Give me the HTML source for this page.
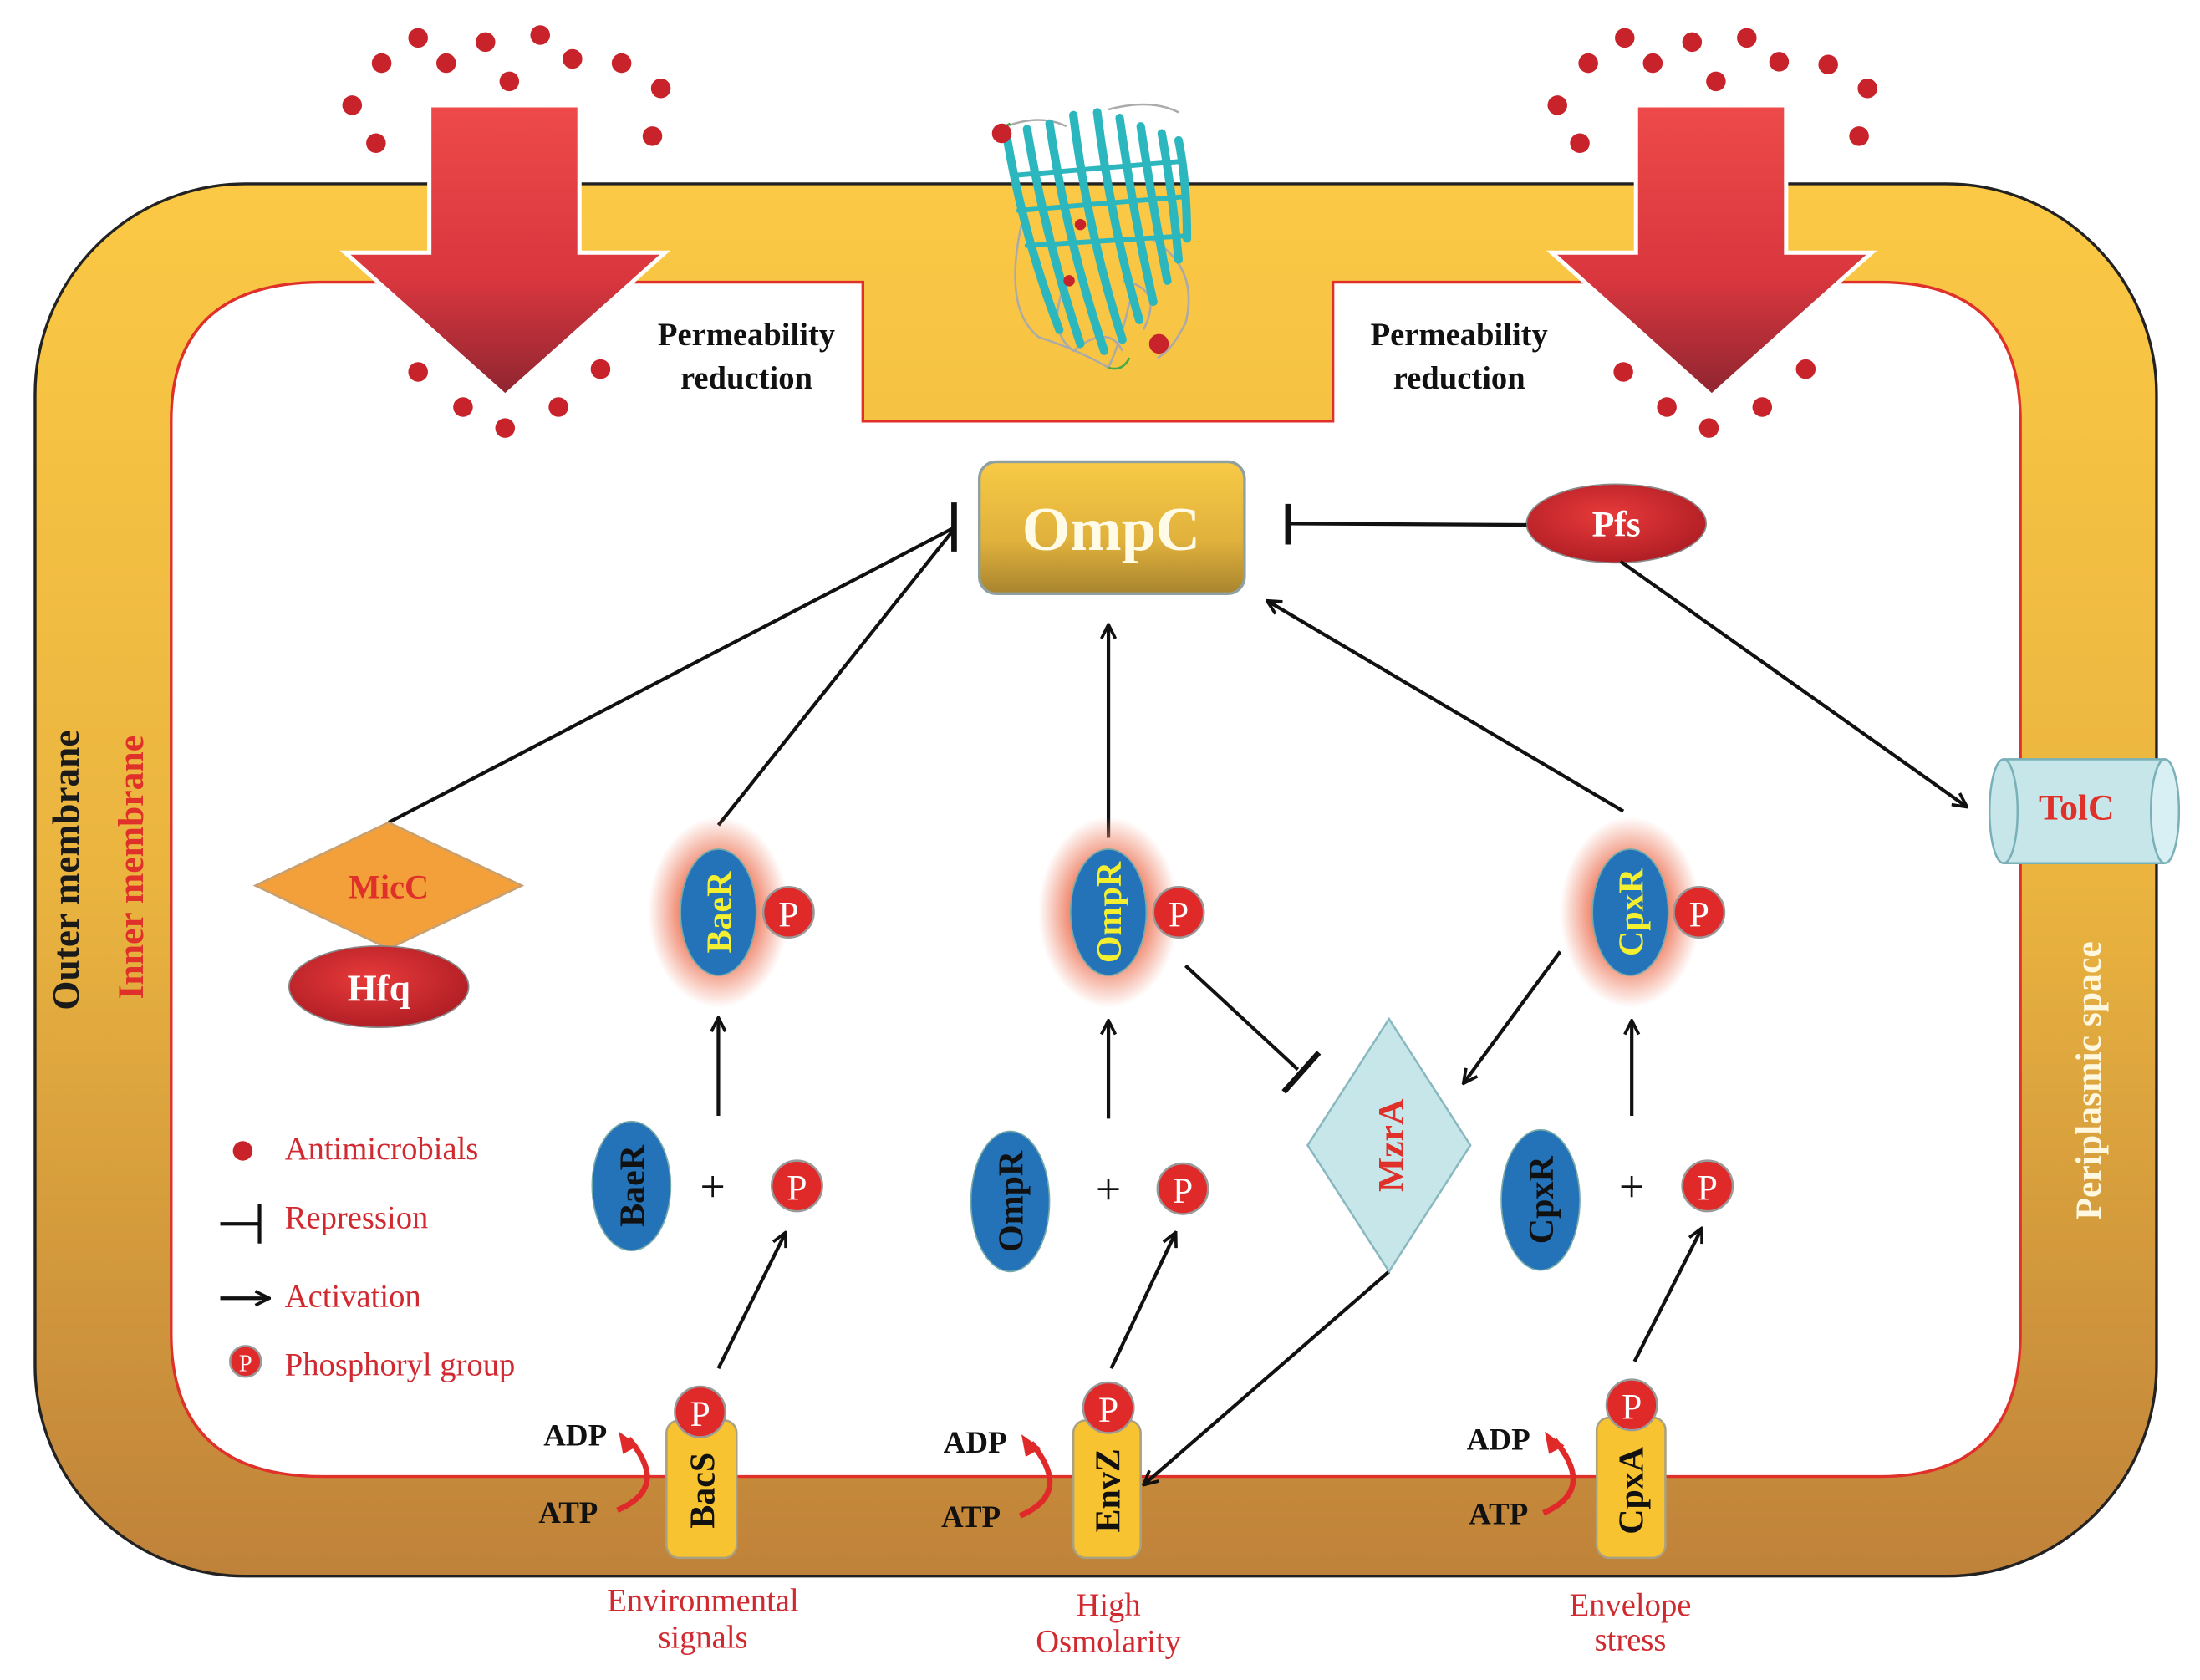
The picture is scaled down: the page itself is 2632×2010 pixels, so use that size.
<!DOCTYPE html>
<html><head><meta charset="utf-8"><style>html,body{margin:0;padding:0;background:#fff}svg{display:block}</style></head>
<body>
<svg width="2632" height="2010" viewBox="0 0 1568 1197" preserveAspectRatio="none" xmlns="http://www.w3.org/2000/svg" font-family="'Liberation Serif', serif">
<defs>
<linearGradient id="mem" x1="0" y1="0" x2="0" y2="1">
<stop offset="0" stop-color="#fbc945"/><stop offset="0.5" stop-color="#eab43f"/><stop offset="1" stop-color="#bf823a"/></linearGradient>
<linearGradient id="arr" x1="0" y1="0" x2="0" y2="1">
<stop offset="0" stop-color="#ee4a4a"/><stop offset="0.6" stop-color="#d9363e"/><stop offset="1" stop-color="#8e2530"/></linearGradient>
<linearGradient id="omp" x1="0" y1="0" x2="0" y2="1">
<stop offset="0" stop-color="#f8ca46"/><stop offset="0.6" stop-color="#e0b13c"/><stop offset="1" stop-color="#a8842e"/></linearGradient>
<radialGradient id="red" cx="0.45" cy="0.4" r="0.7">
<stop offset="0" stop-color="#e83a3a"/><stop offset="1" stop-color="#a81a22"/></radialGradient>
<radialGradient id="glow" cx="0.5" cy="0.5" r="0.5">
<stop offset="0.55" stop-color="#f08a70"/><stop offset="1" stop-color="#f08a70" stop-opacity="0"/></radialGradient>
<marker id="ah" viewBox="0 0 12 12" refX="11" refY="6" markerWidth="12" markerHeight="12" markerUnits="userSpaceOnUse" orient="auto">
<path d="M1,1 L11,6 L1,11" fill="none" stroke="#111" stroke-width="2.2"/></marker>
</defs>

<rect x="25" y="131" width="1512" height="992" rx="150" fill="url(#mem)" stroke="#222" stroke-width="2"/>
<path d="M230,201 H615 V300 H950 V201 H1340 Q1440,201 1440,300 V950 Q1440,1052 1340,1052 H230 Q122,1052 122,950 V300 Q122,201 230,201 Z" fill="#fff" stroke="#e0302a" stroke-width="2"/>

<g fill="#c8222a">
<circle cx="298" cy="27" r="7"/><circle cx="346" cy="30" r="7"/><circle cx="385" cy="25" r="7"/><circle cx="408" cy="42" r="7"/><circle cx="443" cy="45" r="7"/><circle cx="318" cy="45" r="7"/><circle cx="272" cy="45" r="7"/><circle cx="363" cy="58" r="7"/><circle cx="251" cy="75" r="7"/><circle cx="471" cy="63" r="7"/><circle cx="268" cy="102" r="7"/><circle cx="465" cy="97" r="7"/>
<circle cx="298" cy="265" r="7"/><circle cx="428" cy="263" r="7"/><circle cx="330" cy="290" r="7"/><circle cx="398" cy="290" r="7"/><circle cx="360" cy="305" r="7"/>
<circle cx="1158" cy="27" r="7"/><circle cx="1206" cy="30" r="7"/><circle cx="1245" cy="27" r="7"/><circle cx="1268" cy="44" r="7"/><circle cx="1303" cy="46" r="7"/><circle cx="1178" cy="45" r="7"/><circle cx="1132" cy="45" r="7"/><circle cx="1223" cy="58" r="7"/><circle cx="1110" cy="75" r="7"/><circle cx="1331" cy="63" r="7"/><circle cx="1126" cy="102" r="7"/><circle cx="1325" cy="97" r="7"/>
<circle cx="1157" cy="265" r="7"/><circle cx="1287" cy="263" r="7"/><circle cx="1188" cy="290" r="7"/><circle cx="1256" cy="290" r="7"/><circle cx="1218" cy="305" r="7"/>
</g>
<path d="M306,75 H413 V180 H474 L360,282 L246,180 H306 Z" fill="url(#arr)" stroke="#fff" stroke-width="3"/>
<path d="M1166,75 H1273 V180 H1334 L1220,282 L1106,180 H1166 Z" fill="url(#arr)" stroke="#fff" stroke-width="3"/>

<!-- protein -->
<g stroke="#aaa" stroke-width="1.5" fill="none">
<path d="M728,160 Q715,220 740,240 Q770,250 790,262 Q800,240 805,215"/>
<path d="M760,200 Q745,235 765,250 Q790,230 800,250"/>
<path d="M820,170 Q855,190 845,230 Q835,250 825,255"/>
<path d="M800,200 Q830,205 815,235"/>
<path d="M712,92 Q740,80 760,90 M790,78 Q820,70 840,80"/>
</g>
<g stroke="#2cb6bd" stroke-width="6" stroke-linecap="round" fill="none">
<path d="M718,100 Q730,170 755,235"/><path d="M732,92 Q745,170 770,245"/><path d="M748,88 Q760,170 787,250"/>
<path d="M765,82 Q775,165 800,242"/><path d="M782,80 Q792,160 812,228"/><path d="M798,84 Q808,155 822,215"/>
<path d="M813,90 Q822,150 832,200"/><path d="M828,95 Q836,140 840,185"/><path d="M840,100 Q846,130 846,170"/>
<path d="M722,125 L842,115" stroke-width="3.5"/><path d="M726,150 L846,140" stroke-width="3.5"/><path d="M732,175 L846,168" stroke-width="3.5"/>
</g>
<g stroke="#4a4" stroke-width="1.5" fill="none"><path d="M790,262 Q800,265 805,255"/><path d="M712,92 L720,88"/></g>
<circle cx="714" cy="95" r="7" fill="#c8222a"/><circle cx="826" cy="245" r="7" fill="#c8222a"/>
<circle cx="770" cy="160" r="4" fill="#c8222a"/><circle cx="762" cy="200" r="4" fill="#c8222a"/>

<g font-weight="bold" font-size="23" fill="#111" text-anchor="middle">
<text x="532" y="246">Permeability</text><text x="532" y="277">reduction</text>
<text x="1040" y="246">Permeability</text><text x="1040" y="277">reduction</text>
</g>

<text transform="translate(56,620) rotate(-90)" text-anchor="middle" font-weight="bold" font-size="27" fill="#1a1a1a">Outer membrane</text>
<text transform="translate(102,618) rotate(-90)" text-anchor="middle" font-weight="bold" font-size="26" fill="#e0302a">Inner membrane</text>
<text transform="translate(1497,770) rotate(-90)" text-anchor="middle" font-weight="bold" font-size="26" fill="#fff8e0">Periplasmic space</text>

<rect x="698" y="329" width="189" height="94" rx="12" fill="url(#omp)" stroke="#8fa0a0" stroke-width="2"/>
<text x="792" y="392" text-anchor="middle" font-weight="bold" font-size="44" fill="#fffbe6">OmpC</text>

<ellipse cx="1152" cy="373" rx="64" ry="28" fill="url(#red)" stroke="#888" stroke-width="1"/>
<text x="1152" y="382" text-anchor="middle" font-weight="bold" font-size="26" fill="#fff">Pfs</text>

<path d="M1428,541 H1543 V615 H1428 Z" fill="#c6e6ea"/>
<ellipse cx="1428" cy="578" rx="10" ry="37" fill="#c6e6ea" stroke="#7ab0b8" stroke-width="1.5"/>
<path d="M1428,541 H1543 M1428,615 H1543" stroke="#7ab0b8" stroke-width="1.5"/>
<ellipse cx="1543" cy="578" rx="10" ry="37" fill="#d8f0f3" stroke="#7ab0b8" stroke-width="1.5"/>
<text x="1480" y="584" text-anchor="middle" font-weight="bold" font-size="26" fill="#e0302a">TolC</text>

<g stroke="#111" stroke-width="2.5" fill="none">
<path d="M1088,374 L918,373"/><path d="M918,359 V388" stroke-width="4"/>
<path d="M1155,400 L1402,575" marker-end="url(#ah)"/>
<path d="M277,586 L680,376"/><path d="M512,588 L680,377"/><path d="M680,358 V393" stroke-width="4"/>
<path d="M790,597 L790,445" marker-end="url(#ah)"/>
<path d="M1157,578 L903,428" marker-end="url(#ah)"/>
<path d="M845,688 L925,762"/><path d="M915,778 L940,750" stroke-width="4"/>
<path d="M1112,678 L1043,772" marker-end="url(#ah)"/>
<path d="M990,906 L815,1058" marker-end="url(#ah)"/>
<path d="M512,795 L512,725" marker-end="url(#ah)"/>
<path d="M790,797 L790,727" marker-end="url(#ah)"/>
<path d="M1163,795 L1163,727" marker-end="url(#ah)"/>
<path d="M512,975 L560,878" marker-end="url(#ah)"/>
<path d="M792,975 L838,878" marker-end="url(#ah)"/>
<path d="M1165,970 L1213,875" marker-end="url(#ah)"/>
</g>

<path d="M182,631 L277,586 L372,631 L277,676 Z" fill="#f3a03a" stroke="#c8a070" stroke-width="1.5"/>
<text x="277" y="640" text-anchor="middle" font-weight="bold" font-size="24" fill="#e0302a">MicC</text>
<ellipse cx="270" cy="703" rx="64" ry="29" fill="url(#red)" stroke="#888" stroke-width="1"/>
<text x="270" y="713" text-anchor="middle" font-weight="bold" font-size="27" fill="#fff">Hfq</text>

<path d="M990,726 L1048,816 L990,906 L932,816 Z" fill="#c6e6ea" stroke="#8ab8c0" stroke-width="1.5"/>
<text transform="translate(1000,816) rotate(-90)" text-anchor="middle" font-weight="bold" font-size="26" fill="#e0302a">MzrA</text>

<g>
<ellipse cx="512" cy="650" rx="50" ry="68" fill="url(#glow)"/>
<ellipse cx="512" cy="650" rx="27" ry="45" fill="#2472b8" stroke="#7aa" stroke-width="1"/>
<text transform="translate(521,650) rotate(-90)" text-anchor="middle" font-weight="bold" font-size="25" fill="#f4f030">BaeR</text>
<circle cx="562" cy="650" r="18" fill="#e02a2a" stroke="#999" stroke-width="1.5"/><text x="562" y="660" text-anchor="middle" font-size="26" fill="#fff">P</text>

<ellipse cx="790" cy="650" rx="50" ry="68" fill="url(#glow)"/>
<ellipse cx="790" cy="650" rx="27" ry="45" fill="#2472b8" stroke="#7aa" stroke-width="1"/>
<text transform="translate(799,650) rotate(-90)" text-anchor="middle" font-weight="bold" font-size="25" fill="#f4f030">OmpR</text>
<circle cx="840" cy="650" r="18" fill="#e02a2a" stroke="#999" stroke-width="1.5"/><text x="840" y="660" text-anchor="middle" font-size="26" fill="#fff">P</text>

<ellipse cx="1162" cy="650" rx="50" ry="68" fill="url(#glow)"/>
<ellipse cx="1162" cy="650" rx="27" ry="45" fill="#2472b8" stroke="#7aa" stroke-width="1"/>
<text transform="translate(1171,650) rotate(-90)" text-anchor="middle" font-weight="bold" font-size="25" fill="#f4f030">CpxR</text>
<circle cx="1211" cy="650" r="18" fill="#e02a2a" stroke="#999" stroke-width="1.5"/><text x="1211" y="660" text-anchor="middle" font-size="26" fill="#fff">P</text>
</g>

<g>
<ellipse cx="450" cy="845" rx="28" ry="46" fill="#2472b8" stroke="#7aa" stroke-width="1"/>
<text transform="translate(459,845) rotate(-90)" text-anchor="middle" font-weight="bold" font-size="25" fill="#111">BaeR</text>
<text x="508" y="856" text-anchor="middle" font-size="32" fill="#111">+</text>
<circle cx="568" cy="845" r="18" fill="#e02a2a" stroke="#999" stroke-width="1.5"/><text x="568" y="855" text-anchor="middle" font-size="26" fill="#fff">P</text>

<ellipse cx="720" cy="856" rx="28" ry="50" fill="#2472b8" stroke="#7aa" stroke-width="1"/>
<text transform="translate(729,856) rotate(-90)" text-anchor="middle" font-weight="bold" font-size="25" fill="#111">OmpR</text>
<text x="790" y="858" text-anchor="middle" font-size="32" fill="#111">+</text>
<circle cx="843" cy="847" r="18" fill="#e02a2a" stroke="#999" stroke-width="1.5"/><text x="843" y="857" text-anchor="middle" font-size="26" fill="#fff">P</text>

<ellipse cx="1098" cy="855" rx="28" ry="50" fill="#2472b8" stroke="#7aa" stroke-width="1"/>
<text transform="translate(1107,855) rotate(-90)" text-anchor="middle" font-weight="bold" font-size="25" fill="#111">CpxR</text>
<text x="1163" y="856" text-anchor="middle" font-size="32" fill="#111">+</text>
<circle cx="1217" cy="845" r="18" fill="#e02a2a" stroke="#999" stroke-width="1.5"/><text x="1217" y="855" text-anchor="middle" font-size="26" fill="#fff">P</text>
</g>

<g>
<rect x="475" y="1012" width="50" height="98" rx="9" fill="#f8c330" stroke="#a8a080" stroke-width="1.5"/>
<text transform="translate(509,1062) rotate(-90)" text-anchor="middle" font-weight="bold" font-size="25" fill="#111">BacS</text>
<circle cx="499" cy="1006" r="18" fill="#e02a2a" stroke="#999" stroke-width="1.5"/><text x="499" y="1016" text-anchor="middle" font-size="26" fill="#fff">P</text>
<rect x="765" y="1012" width="48" height="98" rx="9" fill="#f8c330" stroke="#a8a080" stroke-width="1.5"/>
<text transform="translate(798,1062) rotate(-90)" text-anchor="middle" font-weight="bold" font-size="25" fill="#111">EnvZ</text>
<circle cx="790" cy="1003" r="18" fill="#e02a2a" stroke="#999" stroke-width="1.5"/><text x="790" y="1013" text-anchor="middle" font-size="26" fill="#fff">P</text>
<rect x="1138" y="1010" width="49" height="100" rx="9" fill="#f8c330" stroke="#a8a080" stroke-width="1.5"/>
<text transform="translate(1171,1062) rotate(-90)" text-anchor="middle" font-weight="bold" font-size="25" fill="#111">CpxA</text>
<circle cx="1163" cy="1001" r="18" fill="#e02a2a" stroke="#999" stroke-width="1.5"/><text x="1163" y="1011" text-anchor="middle" font-size="26" fill="#fff">P</text>
</g>
<g font-weight="bold" font-size="22" fill="#111" text-anchor="middle">
<text x="410" y="1030">ADP</text><text x="405" y="1085">ATP</text>
<text x="695" y="1035">ADP</text><text x="692" y="1088">ATP</text>
<text x="1068" y="1033">ADP</text><text x="1068" y="1086">ATP</text>
</g>
<g stroke="#e02a2a" stroke-width="4" fill="none">
<path d="M440,1076 Q478,1060 448,1025"/>
<path d="M727,1080 Q765,1064 735,1028"/>
<path d="M1100,1078 Q1138,1062 1108,1026"/>
</g>
<g fill="#e02a2a"><path d="M441,1020 L455,1030 L444,1036 Z"/><path d="M728,1022 L742,1032 L731,1038 Z"/><path d="M1101,1020 L1115,1030 L1104,1036 Z"/></g>

<g font-size="23" fill="#d02a30" text-anchor="middle">
<text x="501" y="1148">Environmental</text><text x="501" y="1174">signals</text>
<text x="790" y="1151">High</text><text x="790" y="1177">Osmolarity</text>
<text x="1162" y="1151">Envelope</text><text x="1162" y="1176">stress</text>
</g>

<circle cx="173" cy="820" r="7" fill="#c8222a"/>
<path d="M157,872 H185 M185,858 V886" stroke="#111" stroke-width="2.5"/>
<path d="M157,925 H192" stroke="#111" stroke-width="2.5" marker-end="url(#ah)"/>
<circle cx="175" cy="970" r="11" fill="#e02a2a" stroke="#999" stroke-width="1.5"/><text x="175" y="977" text-anchor="middle" font-size="17" fill="#fff">P</text>
<g font-size="23" fill="#d02a30">
<text x="203" y="826">Antimicrobials</text>
<text x="203" y="875">Repression</text>
<text x="203" y="931">Activation</text>
<text x="203" y="980">Phosphoryl group</text>
</g>
</svg>
</body></html>
